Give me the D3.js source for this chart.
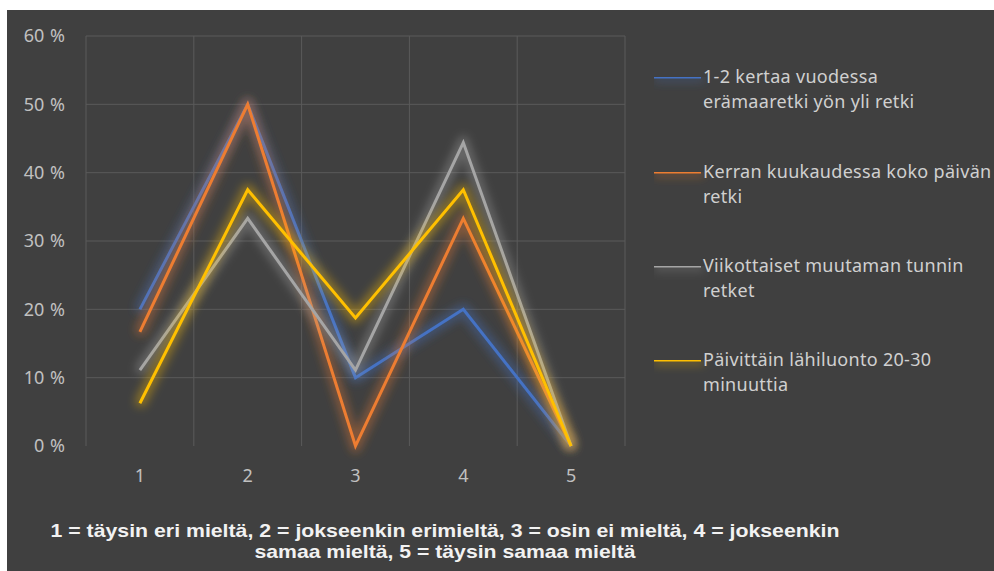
<!DOCTYPE html>
<html>
<head>
<meta charset="utf-8">
<script src="https://cdn.jsdelivr.net/npm/d3@7"></script>
<style>
  body { margin: 0; background: #fff; }
  svg { display: block; }
</style>
</head>
<body>
<div id="chart"></div>
<script>
// survey answers, share per option 1..5
const categories = ["1", "2", "3", "4", "5"];
const seriesNames = [
  ["1-2 kertaa vuodessa", "erämaaretki yön yli retki"],
  ["Kerran kuukaudessa koko päivän", "retki"],
  ["Viikottaiset muutaman tunnin", "retket"],
  ["Päivittäin lähiluonto 20-30", "minuuttia"]
];
const vuosiRetki = [0.20, 0.50, 0.10, 0.20, 0.00];
const kuukausiRetki = [0.167, 0.50, 0.00, 0.333, 0.00];
const viikkoRetki = [0.111, 0.333, 0.111, 0.444, 0.00];
const paivittain = [0.0625, 0.375, 0.1875, 0.375, 0.00];
const yTicks = [0, 0.1, 0.2, 0.3, 0.4, 0.5, 0.6];
const caption = [
  "1 = täysin eri mieltä, 2 = jokseenkin erimieltä, 3 = osin ei mieltä, 4 = jokseenkin",
  "samaa mieltä, 5 = täysin samaa mieltä"
];

const allSeries = [vuosiRetki, kuukausiRetki, viikkoRetki, paivittain];
const colors = ["#4472C4", "#ED7D31", "#A5A5A5", "#FFC000"];

const W = 994, H = 571;
const plot = { left: 86, right: 625, top: 36, bottom: 446 };

const svg = d3.select("#chart").append("svg")
    .attr("width", W)
    .attr("height", H);

// glow filters, one per series colour (user space so flat legend lines work)
const defs = svg.append("defs");
colors.forEach((c, i) => {
    const f = defs.append("filter")
        .attr("id", "glow" + i)
        .attr("filterUnits", "userSpaceOnUse")
        .attr("x", 0).attr("y", 0)
        .attr("width", W).attr("height", H);
    f.append("feMorphology").attr("in", "SourceGraphic")
        .attr("operator", "dilate").attr("radius", 3).attr("result", "thick");
    f.append("feGaussianBlur").attr("in", "thick")
        .attr("stdDeviation", 5).attr("result", "blur");
    f.append("feComponentTransfer").attr("in", "blur").attr("result", "faded")
        .append("feFuncA").attr("type", "linear").attr("slope", 0.4);
    const m = f.append("feMerge");
    m.append("feMergeNode").attr("in", "faded");
    m.append("feMergeNode").attr("in", "SourceGraphic");
});

// dark chart background
svg.append("rect")
    .attr("x", 7).attr("y", 10)
    .attr("width", W - 7).attr("height", H - 10)
    .attr("fill", "#404040");

const xScale = d3.scaleBand()
    .domain(categories)
    .range([plot.left, plot.right]);

const yScale = d3.scaleLinear()
    .domain([0, 0.6])
    .range([plot.bottom, plot.top]);

// gridlines
svg.append("g").selectAll("line.h")
    .data(yTicks.slice(1))
    .enter().append("line")
    .attr("x1", plot.left).attr("x2", plot.right)
    .attr("y1", d => yScale(d)).attr("y2", d => yScale(d))
    .attr("stroke", "#5a5a5a").attr("stroke-width", 1);

const vLines = categories.map(c => xScale(c)).concat([plot.right]);
svg.append("g").selectAll("line.v")
    .data(vLines)
    .enter().append("line")
    .attr("x1", d => d).attr("x2", d => d)
    .attr("y1", plot.top).attr("y2", plot.bottom)
    .attr("stroke", "#5a5a5a").attr("stroke-width", 1);

// y axis labels
const yAxis = svg.append("g")
    .attr("transform", "translate(" + (plot.left - 21) + ",0)")
    .call(d3.axisLeft(yScale).tickValues(yTicks).tickSize(0)
        .tickFormat(d => Math.round(d * 100) + " %"))
    .attr("font-size", 18)
    .attr("font-family", "'Noto Sans', sans-serif");
yAxis.select(".domain").remove();
yAxis.selectAll("text")
    .attr("fill", "#c0c0c0")
    .attr("x", 0)
    .style("font-size", "18px")
    .style("word-spacing", "1px");

// x axis labels
const xAxis = svg.append("g")
    .attr("transform", "translate(0," + (plot.bottom + 20) + ")")
    .call(d3.axisBottom(xScale).tickSize(0))
    .attr("font-size", 18)
    .attr("font-family", "'Noto Sans', sans-serif");
xAxis.select(".domain").remove();
xAxis.selectAll("text")
    .attr("fill", "#c0c0c0")
    .style("font-size", "18px");

// series lines
const line = d3.line()
    .x((d, i) => xScale(categories[i]) + xScale.bandwidth() / 2)
    .y(d => yScale(d));

svg.append("g").selectAll("path")
    .data(allSeries)
    .enter().append("path")
    .attr("d", d => line(d))
    .attr("fill", "none")
    .attr("stroke", (d, i) => colors[i])
    .attr("stroke-width", 3)
    .attr("stroke-linejoin", "miter")
    .attr("filter", (d, i) => "url(#glow" + i + ")");

// legend
const legendTop = [77, 172, 266, 360];
const legend = svg.append("g").selectAll("g")
    .data(seriesNames)
    .enter().append("g")
    .attr("transform", (d, i) => "translate(654," + legendTop[i] + ")");

legend.append("line")
    .attr("x1", 0).attr("x2", 47)
    .attr("y1", 0).attr("y2", 0)
    .attr("stroke", (d, i) => colors[i])
    .attr("stroke-width", 3)
    .attr("filter", (d, i) => "url(#glow" + i + ")");

legend.each(function(d) {
    const t = d3.select(this).append("text")
        .attr("fill", "#d0d0d0")
        .style("font-family", "'Noto Sans', sans-serif")
        .style("font-size", "18px")
        .style("letter-spacing", "0.3px");
    d.forEach((s, k) => {
        t.append("tspan")
            .attr("x", 49)
            .attr("y", 6 + k * 25)
            .text(s);
    });
});

// caption under the chart
const capWidth = [789, 381];
svg.append("g").selectAll("text")
    .data(caption)
    .enter().append("text")
    .attr("x", 445)
    .attr("y", (d, i) => 537 + i * 21)
    .attr("text-anchor", "middle")
    .attr("fill", "#f2f2f2")
    .attr("textLength", (d, i) => capWidth[i])
    .attr("lengthAdjust", "spacingAndGlyphs")
    .style("font-family", "'Liberation Sans', Arial, sans-serif")
    .style("font-weight", "bold")
    .style("font-size", "19px")
    .text(d => d);
</script>
</body>
</html>
